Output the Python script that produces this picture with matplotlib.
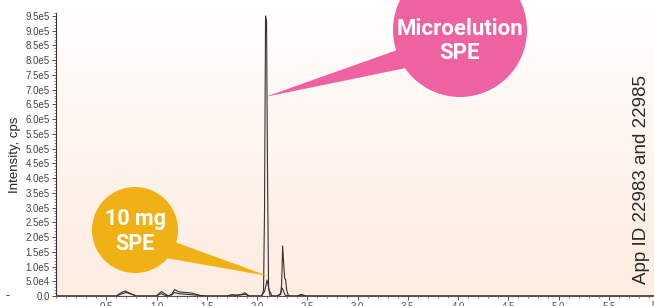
import matplotlib.pyplot as plt
import numpy as np
from matplotlib.patches import Circle, Polygon
from matplotlib.ticker import MultipleLocator, FuncFormatter

plt.rcParams['font.family'] = ['Liberation Sans', 'DejaVu Sans']

# Microelution SPE trace (time in min, intensity in cps)
t_micro = [0.0, 0.60, 0.66, 0.70, 0.75, 0.80, 1.00, 1.03, 1.05, 1.08, 1.12, 1.15, 1.18, 1.22,
           1.40, 1.50, 1.70, 1.75, 1.80, 1.85, 1.88, 1.92, 2.05, 2.065, 2.075, 2.085, 2.095,
           2.105, 2.115, 2.13, 2.20, 2.235, 2.245, 2.255, 2.265, 2.275, 2.285, 2.295, 2.31,
           2.33, 2.40, 2.43, 2.45, 2.48, 3.0, 6.0]
i_micro = [0, 0, 8e3, 1.2e4, 6e3, 0, 0, 6e3, 8e3, 3e3, 0, 4e3, 1.2e4, 8e3,
           3e3, 0, 0, 3e3, 2e3, 4e3, 6e3, 0, 0, 2e4, 3.0e5, 9.5e5, 9.3e5,
           4.0e5, 3e4, 0, 0, 5e3, 4e4, 1.7e5, 1.1e5, 6e4, 5.5e4, 2e4, 3e3,
           0, 0, 4e3, 5e3, 0, 0, 0]

# 10 mg SPE trace
t_10mg = [0.0, 0.60, 0.65, 0.69, 0.73, 0.80, 1.00, 1.03, 1.05, 1.08, 1.12, 1.15, 1.18, 1.22,
          1.35, 1.45, 1.70, 1.75, 1.80, 1.85, 1.88, 1.92, 2.04, 2.075, 2.10, 2.12, 2.15,
          2.20, 2.235, 2.25, 2.265, 2.28, 2.31, 2.40, 2.44, 2.48, 3.0, 6.0]
i_10mg = [0, 0, 1.2e4, 1.7e4, 1.0e4, 0, 0, 1.0e4, 1.5e4, 8e3, 0, 5e3, 2.2e4, 1.4e4,
          1.0e4, 0, 0, 4e3, 3e3, 6e3, 1.1e4, 0, 0, 1.5e4, 5.4e4, 2.0e4, 0,
          0, 8e3, 2.7e4, 1.5e4, 3e3, 0, 0, 3e3, 0, 0, 0]

x_ticks = [0.5, 1.0, 1.5, 2.0, 2.5, 3.0, 3.5, 4.0, 4.5, 5.0, 5.5]
y_ticks = np.arange(0, 9.51e5, 5e4)

fig = plt.figure(figsize=(6.54, 3.06), dpi=100)
ax = fig.add_axes([56 / 654, 10 / 306, 598 / 654, 283 / 306])
ax.set_xlim(0, 5.95)
ax.set_ylim(0, 9.6e5)

# peach gradient background
grad = np.linspace(0, 1, 256).reshape(-1, 1, 1) ** 0.8
top = np.array([1.0, 1.0, 1.0])
bot = np.array([253, 236, 224]) / 255
img = top * (1 - grad) + bot * grad
ax.imshow(img, extent=[0, 1, 0, 1], transform=ax.transAxes, aspect='auto', zorder=0)

ax.plot(t_10mg, i_10mg, color='#333333', lw=0.8, zorder=3)
ax.plot(t_micro, i_micro, color='#333333', lw=0.8, zorder=3)

for s in ['top', 'right']:
    ax.spines[s].set_visible(False)
ax.spines['left'].set_color('#333333')
ax.spines['bottom'].set_color('#555555')
ax.spines['left'].set_linewidth(0.8)
ax.spines['bottom'].set_linewidth(0.8)

ax.set_xticks(x_ticks)
ax.set_xticklabels([f'{v:.1f}' for v in x_ticks])
ax.xaxis.set_minor_locator(MultipleLocator(0.1))
ax.set_yticks(y_ticks)
ax.yaxis.set_minor_locator(MultipleLocator(1e4))


def fmt(v, pos):
    if v <= 0:
        return '0.0'
    e = int(np.floor(np.log10(v)))
    return f'{v / 10 ** e:.1f}e{e}'


ax.yaxis.set_major_formatter(FuncFormatter(fmt))
ax.tick_params(axis='both', which='major', labelsize=7, colors='#333333', length=3, width=0.6, pad=1.5)
ax.tick_params(axis='both', which='minor', length=1.5, width=0.5, colors='#555555')
ax.tick_params(axis='x', labelcolor='#555555')
ax.tick_params(axis='y', labelcolor='#444444')
ax.set_ylabel('Intensity, cps', fontsize=9.5, color='#222222', labelpad=3)
ax.text(5.92, -9e3, 'min', fontsize=7, color='#555555', ha='left', va='top')
fig.text(5 / 654, 1 - 296 / 306, '-', fontsize=9, color='#333333', va='center')

# overlay for callouts, in pixel coords
ov = fig.add_axes([0, 0, 1, 1], zorder=5)
ov.set_xlim(0, 654)
ov.set_ylim(306, 0)
ov.axis('off')

callout_font = ['Roboto', 'DejaVu Sans']

pink = '#ef62a2'
ov.add_patch(Polygon([[265, 97], [400, 49], [406, 68]], closed=True, color=pink, lw=0))
ov.add_patch(Circle((460, 30), 67, color=pink, lw=0))
ov.text(460, 29, 'Microelution', color='white', fontsize=16, fontweight='bold',
        family=callout_font, ha='center', va='center')
ov.text(460, 53, 'SPE', color='white', fontsize=16, fontweight='bold',
        family=callout_font, ha='center', va='center')

gold = '#f0b114'
ov.add_patch(Polygon([[268, 276], [172, 241], [166, 258]], closed=True, color=gold, lw=0))
ov.add_patch(Circle((135, 230), 43, color=gold, lw=0))
ov.text(135, 219, '10 mg', color='white', fontsize=15.5, fontweight='bold',
        family=callout_font, ha='center', va='center')
ov.text(135, 244, 'SPE', color='white', fontsize=15.5, fontweight='bold',
        family=callout_font, ha='center', va='center')

ov.text(641, 179, 'App ID 22983 and 22985', rotation=90, fontsize=13.5, color='#2a2a2a',
        ha='center', va='center')

fig.savefig('out.png', dpi=100)
